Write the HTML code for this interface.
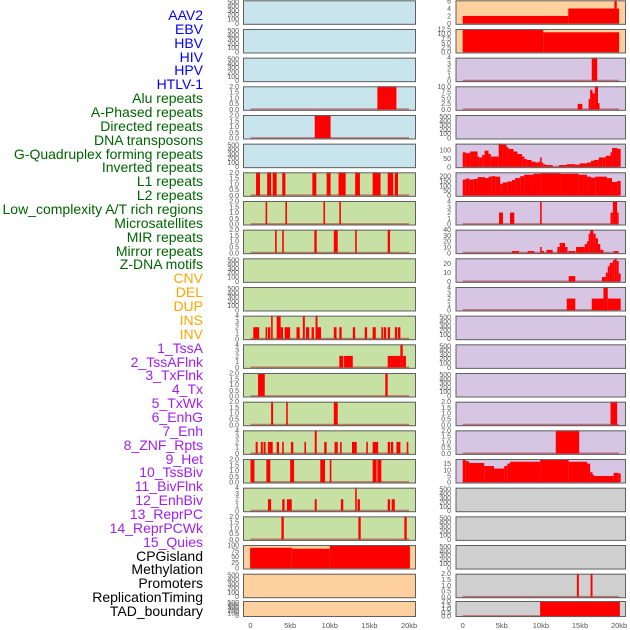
<!DOCTYPE html>
<html><head><meta charset="utf-8">
<style>
html,body{margin:0;padding:0;background:#fff;}
#wrap{position:relative;width:630px;height:630px;overflow:hidden;font-family:"Liberation Sans",sans-serif;}
.lbl{position:absolute;right:427px;font-size:14px;line-height:14px;white-space:nowrap;}
svg{position:absolute;left:0;top:0;}
</style></head>
<body>
<div id="wrap">
<div id="labels"></div>
<svg id="chart" width="630" height="630"></svg>
</div>
<script>
const trackLabels = ["AAV2","EBV","HBV","HIV","HPV","HTLV-1","Alu repeats","A-Phased repeats","Directed repeats","DNA transposons","G-Quadruplex forming repeats","Inverted repeats","L1 repeats","L2 repeats","Low_complexity A/T rich regions","Microsatellites","MIR repeats","Mirror repeats","Z-DNA motifs","CNV","DEL","DUP","INS","INV","1_TssA","2_TssAFlnk","3_TxFlnk","4_Tx","5_TxWk","6_EnhG","7_Enh","8_ZNF_Rpts","9_Het","10_TssBiv","11_BivFlnk","12_EnhBiv","13_ReprPC","14_ReprPCWk","15_Quies","CPGisland","Methylation","Promoters","ReplicationTiming","TAD_boundary"];
const labelGroups = ["blue","blue","blue","blue","blue","blue","green","green","green","green","green","green","green","green","green","green","green","green","green","orange","orange","orange","orange","orange","purple","purple","purple","purple","purple","purple","purple","purple","purple","purple","purple","purple","purple","purple","purple","black","black","black","black","black"];
const xTicks = [0,5,10,15,20];
const xTickLabels = ["0","5kb","10kb","15kb","20kb"];
const col1Bg = ["blue","blue","blue","blue","blue","blue","green","green","green","green","green","green","green","green","green","green","green","green","green","orange","orange","orange"];
const col2Bg = ["orange","orange","purple","purple","purple","purple","purple","purple","purple","purple","purple","purple","purple","purple","purple","purple","purple","grey","grey","grey","grey","grey"];
const col1Ticks = [
 ["0","100","200","300","400","500"],["0","100","200","300","400","500"],["0","100","200","300","400","500"],
 ["0.0","0.5","1.0","1.5","2.0"],["0.0","0.5","1.0","1.5","2.0"],["0","100","200","300","400","500"],
 ["0.0","0.5","1.0","1.5","2.0"],["0.0","0.5","1.0","1.5","2.0"],["0.0","0.5","1.0","1.5","2.0"],
 ["0","100","200","300","400","500"],["0","100","200","300","400","500"],
 ["0","1","2","3","4"],["0","1","2","3","4"],["0.0","0.5","1.0","1.5","2.0"],["0.0","0.5","1.0","1.5","2.0"],
 ["0","1","2","3","4"],["0.0","0.5","1.0","1.5","2.0"],["0","1","2","3","4"],["0.0","0.5","1.0","1.5","2.0"],
 ["0","25","50","75","100"],["0","100","200","300","400","500"],["0","100","200","300","400","500"]];
const col2Ticks = [
 ["0","2","4","6"],["0.0","2.5","5.0","7.5","10.0","12.5"],["0","1","2","3","4"],["0.0","2.5","5.0","7.5","10.0"],
 ["0","100","200","300","400","500"],["0","50","100"],["0","50","100","150","200"],["0","1","2","3","4"],
 ["0","10","20","30","40"],["0","10","20"],["0","1","2","3","4"],
 ["0","100","200","300","400","500"],["0","100","200","300","400","500"],["0","100","200","300","400","500"],
 ["0.0","0.5","1.0","1.5","2.0"],["0.0","0.5","1.0","1.5","2.0"],["0","5","10","15"],
 ["0","100","200","300","400","500"],["0","100","200","300","400","500"],["0","100","200","300","400","500"],
 ["0.0","0.5","1.0","1.5","2.0"],["0.0","0.5","1.0","1.5","2.0"]];
const col1Top = [520,520,520,2,2,520,2,2,2,520,520,4,4,2,2,4,2,4,2,100,520,520];
const col2Top = [6.2,12.6,4,10,520,136,240,4,40,26,4,520,520,520,2,2,18.7,520,520,520,2,2];
const col1Segments = [
 [],[],[],
 [[16.0,18.4,2]],
 [[8.1,10.1,2]],
 [],
 [[0.7,1.2,2],[2.1,2.6,2],[2.8,3.3,2],[4.0,4.4,2],[7.8,8.3,2],[9.6,10.1,2],[11.1,12.0,2],[13.2,13.8,2],[15.4,16.4,2],[17.3,18.0,2],[18.2,18.6,2]],
 [[1.9,2.1,2],[4.4,4.6,2],[9.2,9.4,2],[11.2,11.4,2]],
 [[3.1,3.3,2],[4.0,4.2,2],[8.05,8.35,2],[10.5,11.0,2],[13.2,13.4,2],[17.3,17.6,2]],
 [],[],
 [[0.35,1.1,2],[1.9,2.1,2],[2.2,2.5,2],[2.6,2.8,4],[3.3,3.8,4],[3.8,4.1,2],[4.3,5.0,2],[5.8,6.2,2],[6.6,6.85,4],[7.0,7.4,2],[7.7,8.0,2],[8.2,8.45,4],[8.45,8.9,2],[10.5,10.85,2],[11.2,11.5,2],[12.9,13.2,2],[14.4,14.7,2],[15.4,15.8,2],[16.5,16.7,2],[16.8,17.1,2],[17.3,17.6,2],[18.2,18.5,2],[18.6,18.9,2]],
 [[11.2,11.7,2],[11.8,12.9,2],[17.3,17.6,2],[17.6,18.9,2],[18.9,19.2,4],[19.2,19.6,2]],
 [[0.95,1.8,2],[17.0,17.3,2]],
 [[2.6,2.85,2],[4.5,4.7,2],[10.5,11.0,2]],
 [[0.65,0.9,2],[1.3,1.55,2],[1.65,1.9,2],[2.2,2.45,2],[2.45,2.8,2],[3.3,3.6,2],[4.0,4.2,2],[5.1,5.4,2],[6.8,7.0,2],[8.1,8.35,4],[9.3,9.6,2],[10.6,11.0,2],[11.3,11.5,2],[12.8,13.4,2],[14.6,14.8,2],[15.4,16.1,2],[17.3,17.6,2],[17.7,18.0,2],[18.4,18.9,2],[19.7,19.9,2]],
 [[0.0,0.5,2],[2.0,2.5,2],[5.0,5.5,2],[8.8,9.4,2],[10.0,10.2,2],[15.4,15.9,2],[16.0,16.5,2]],
 [[2.2,2.6,2],[4.0,4.3,2],[4.6,5.2,2],[8.1,8.35,2],[11.4,11.7,2],[13.2,13.4,4],[13.5,13.8,2],[17.3,17.6,2],[17.8,18.2,2]],
 [[3.9,4.2,2],[13.6,13.9,2],[19.4,19.7,2]],
 [[-0.05,5.2,88],[5.2,10.0,84],[10.0,20.1,100]],
 [],[]];
const col2Segments = [
 [[0,13.5,2],[13.5,20,4],[19.4,19.7,6.2]],
 [[0,10.3,12.2],[10.3,20,10.8]],
 [[16.5,17.2,4]],
 [[14.7,15.3,2.4],[16.1,16.3,4.5],[16.3,16.6,8.5],[16.6,16.9,7],[16.9,17.3,10],[17.3,17.5,2.7]],
 [],
 [[0,0.4,85],[0.4,0.95,80],[0.95,1.9,90],[1.9,2.1,60],[2.1,2.5,55],[2.5,2.8,70],[2.8,3.3,95],[3.3,3.6,75],[3.6,4.6,60],[4.6,5.1,136],[5.1,5.6,130],[5.6,5.85,115],[5.85,6.5,105],[6.5,7.0,90],[7.0,7.6,75],[7.6,7.9,60],[7.9,8.2,45],[8.2,8.8,40],[8.8,9.3,30],[9.3,9.7,25],[9.7,9.9,30],[9.9,10.1,55],[10.1,10.3,25],[10.3,10.6,15],[10.6,11.5,10],[12.3,13.3,10],[13.3,14.4,15],[14.4,14.95,12],[14.95,15.9,20],[15.9,16.4,25],[16.4,16.8,35],[16.8,17.4,40],[17.4,17.9,55],[17.9,18.3,55],[18.3,18.9,65],[18.9,19.1,85],[19.1,19.8,110],[19.8,20.2,105]],
 [[0,0.4,165],[0.4,0.85,175],[0.85,1.35,165],[1.35,1.9,170],[1.9,2.85,190],[2.85,3.3,180],[3.3,3.7,195],[3.7,4.15,200],[4.15,4.8,195],[4.8,5.1,120],[5.1,5.7,135],[5.7,6.3,145],[6.3,6.7,160],[6.7,7.35,180],[7.35,7.85,200],[7.85,9.05,215],[9.05,9.9,225],[9.9,12.5,230],[12.5,14.8,225],[14.8,15.9,215],[15.9,16.4,195],[16.4,16.95,185],[16.95,18.45,195],[18.45,19.1,180],[19.1,19.75,140],[19.75,20.2,150]],
 [[4.65,5.15,2],[6.05,6.6,2],[9.9,10.1,4],[18.9,19.2,2],[19.2,19.75,4],[19.75,19.9,2]],
 [[6.3,7.2,3],[8.3,9.15,3],[9.9,10.1,10],[10.1,10.4,3],[10.7,11.5,5],[12.1,12.4,10],[12.4,13.1,17],[13.1,13.4,10],[13.5,14.4,3],[14.5,15.0,10],[15.0,15.6,10],[15.6,15.9,15],[15.9,16.1,20],[16.1,16.3,33],[16.3,16.7,40],[16.7,17.0,33],[17.0,17.3,25],[17.3,17.6,15],[17.6,18.0,5],[19.3,19.9,3]],
 [[13.55,14.4,6],[17.8,18.3,5],[18.3,18.55,10],[18.55,18.8,17],[18.8,19.2,21],[19.2,19.45,24],[19.45,19.7,26],[19.7,19.95,23],[19.95,20.2,9]],
 [[13.3,14.4,2],[16.5,18.0,2],[18.0,18.55,4],[18.55,20.2,2]],
 [],[],[],
 [[18.9,19.75,2]],
 [[11.9,14.9,2]],
 [[0,0.4,18.5],[0.4,0.8,17],[0.8,2.75,15.5],[2.75,4.0,13],[4.0,5.3,11],[5.3,5.7,13],[5.7,6.05,15],[6.05,9.9,16.5],[9.9,13.55,18.5],[13.55,15.9,16.5],[15.9,16.3,15],[16.3,16.6,8],[16.6,16.75,6],[16.75,19.3,5],[19.3,19.95,7.5],[19.95,20.2,7]],
 [],[],[],
 [[14.6,14.85,2],[16.35,16.6,2]],
 [[9.9,20.1,2]]];

const bgColors = {blue:"#c8e4ec",green:"#c7e1a5",orange:"#fed09e",purple:"#d6c6e3",grey:"#d0d0d0"};
const txtColors = {blue:"#0000ff",green:"#006400",orange:"#ffa500",purple:"#a020f0",black:"#000"};
const NS = "http://www.w3.org/2000/svg";
const svg = document.getElementById('chart');
const labelsDiv = document.getElementById('labels');

trackLabels.forEach((t,i)=>{
  const d = document.createElement('div');
  d.className = 'lbl';
  
  
  d.style.top = (8 + i*13.86) + 'px';
  d.style.color = txtColors[labelGroups[i]];
  d.textContent = t;
  labelsDiv.appendChild(d);
});

function mk(tag, attrs){ const e=document.createElementNS(NS,tag); for(const k in attrs) e.setAttribute(k,attrs[k]); svg.appendChild(e); return e; }

const cols = [
  {left:243,right:416,x0:250.5,pxPerKb:7.93,bg:col1Bg,ticks:col1Ticks,top:col1Top,segs:col1Segments,tickX:239},
  {left:455.5,right:626,x0:462.7,pxPerKb:7.82,bg:col2Bg,ticks:col2Ticks,top:col2Top,segs:col2Segments,tickX:451}
];
function rowTop(i){ return i===21 ? 601 : 0.3 + 28.67*i; }
function rowH(i){ return i===21 ? 16 : 24.5; }

cols.forEach((c,ci)=>{
  const xScale = kb => c.x0 + kb*c.pxPerKb;
  for(let r=0;r<22;r++){
    const y0=rowTop(r), h=rowH(r);
    const topV = c.top[r];
    const lo = -0.06*topV, hi = topV*1.0;
    const yScale = v => y0 + h - (v-lo)/(hi-lo)*h;
    const bg = mk('rect',{x:c.left,y:y0,width:c.right-c.left,height:h,fill:bgColors[c.bg[r]]});
    
    
    const segs = c.segs[r];
    if(segs.length){
      const bl = mk('line',{x1:xScale(0),x2:xScale(20),y1:yScale(0),y2:yScale(0),stroke:"rgba(170,40,40,0.55)","stroke-width":2});
      
      
    }
    segs.forEach(s=>{
      const x1=xScale(s[0]), x2=xScale(s[1]);
      const yt=yScale(s[2]), yb=yScale(0);
      const b = mk('rect',{x:x1,y:Math.max(yt,y0),width:Math.max(x2-x1,1.5),height:yb-Math.max(yt,y0),fill:"#ff0000"});
      
      
    });
    const fr = mk('rect',{x:c.left+0.5,y:y0+0.5,width:c.right-c.left-1,height:h-1,fill:"none",stroke:"#606060","stroke-width":1});
    
    
    // ticks
    const tl = c.ticks[r];
    const tmax = parseFloat(tl[tl.length-1]);
    const tickTopV = (topV===520)? 500 : topV;
    tl.forEach(lab=>{
      const v = parseFloat(lab);
      const yy = (topV===520) ? y0 + h - 1.5 - v/500*(h-3) : yScale(v);
      const t = mk('text',{x:c.tickX,y:yy+2.5,"text-anchor":"end","font-size":7,fill:"#555","font-family":"Liberation Sans, sans-serif"});
      
      
      t.textContent = lab;
    });
  }
  xTicks.forEach((v,k)=>{
    const t = mk('text',{x:xScale(v),y:628,"text-anchor":"middle","font-size":7.5,fill:"#555","font-family":"Liberation Sans, sans-serif"});
    
    
    t.textContent = xTickLabels[k];
  });
});
</script>
</body></html>
